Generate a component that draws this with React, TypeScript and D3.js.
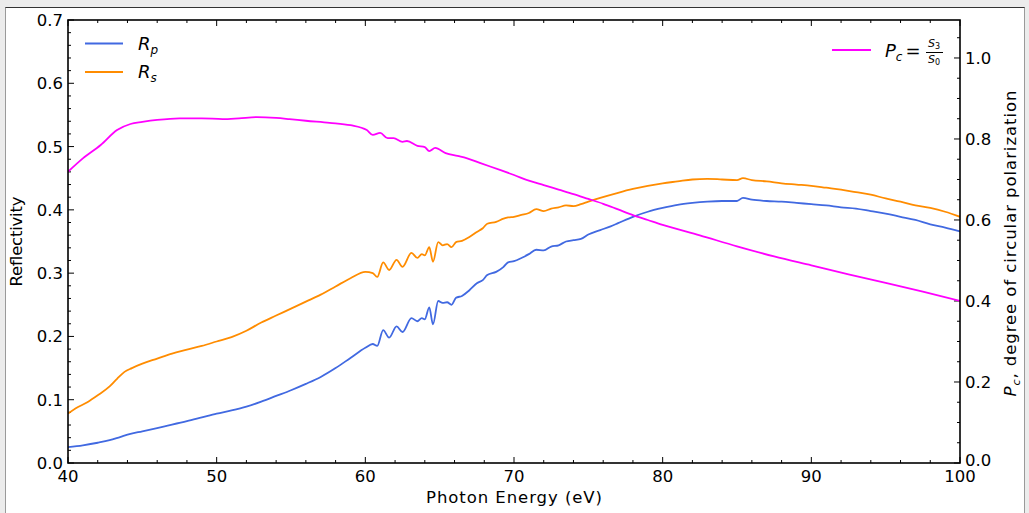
import React from "react";
import * as d3 from "d3";

const energyP = [40,41,42,42.8,43.5,44.2,45,46.5,48,49,50,51,52,53,54,55,56,57,58,59,60,60.5,60.8,61.2,61.6,62.1,62.5,63.1,63.5,63.8,64.0,64.3,64.55,64.9,65.2,65.5,65.8,66.1,66.5,67,67.5,67.9,68.2,68.8,69.3,69.6,70,70.5,71,71.5,72,72.5,73,73.5,74,74.5,75,75.8,76.5,77,78,79,80,81,82,83,84,85,85.4,86,87,88,89,90,91,92,93,94,95,96,97,98,99,100];
const rp = [0.025,0.028,0.032,0.036,0.041,0.046,0.050,0.058,0.066,0.072,0.078,0.083,0.089,0.097,0.106,0.115,0.125,0.136,0.150,0.166,0.182,0.188,0.185,0.210,0.198,0.216,0.207,0.229,0.224,0.229,0.227,0.246,0.219,0.256,0.253,0.254,0.250,0.261,0.264,0.273,0.284,0.289,0.297,0.302,0.310,0.317,0.319,0.324,0.330,0.337,0.336,0.342,0.344,0.350,0.352,0.354,0.361,0.368,0.374,0.379,0.389,0.397,0.403,0.408,0.411,0.413,0.414,0.414,0.419,0.416,0.414,0.413,0.411,0.409,0.407,0.404,0.402,0.398,0.394,0.389,0.384,0.377,0.372,0.366];

const energyS = [40,40.5,41.3,42,42.8,43.3,43.8,44.3,45,46,47,48,49,50,51,52,53,54,55,56,57,58,59,60,60.5,60.8,61.2,61.6,62.1,62.5,63.1,63.5,63.8,64.0,64.3,64.55,64.9,65.2,65.5,65.8,66.1,66.5,67,67.5,67.9,68.2,68.8,69.3,69.6,70,70.5,71,71.5,72,72.5,73,73.5,74,74.5,75,75.8,77,78,79,80,81,82,83,84,85,85.4,86,87,88,89,90,91,92,93,94,95,96,97,98,99,100];
const rs = [0.078,0.086,0.096,0.107,0.121,0.133,0.144,0.150,0.157,0.165,0.173,0.179,0.185,0.192,0.199,0.209,0.222,0.233,0.244,0.255,0.266,0.279,0.292,0.302,0.300,0.294,0.317,0.305,0.321,0.310,0.332,0.324,0.330,0.328,0.341,0.318,0.349,0.344,0.346,0.341,0.349,0.351,0.357,0.365,0.371,0.378,0.381,0.386,0.388,0.389,0.392,0.395,0.401,0.398,0.402,0.404,0.407,0.406,0.409,0.413,0.419,0.427,0.433,0.438,0.442,0.445,0.448,0.449,0.448,0.447,0.450,0.447,0.445,0.442,0.440,0.438,0.435,0.432,0.428,0.424,0.418,0.413,0.407,0.403,0.397,0.389];

const energyC = [40,41,42.2,43.3,44.2,45,46,47.5,49,50.4,51.5,52.7,54,54.9,56,57.6,59,60.1,60.5,61,61.5,61.9,62.5,62.8,63.5,64,64.3,64.7,65.4,66.2,66.8,67.7,69.1,70,71,72,73,74,75,76,77,78,79,80,82.5,85,87.5,90,92.5,95,97.5,100];
const pc = [0.719,0.752,0.785,0.822,0.837,0.842,0.847,0.851,0.851,0.849,0.851,0.854,0.852,0.849,0.845,0.840,0.834,0.822,0.810,0.815,0.802,0.802,0.793,0.795,0.783,0.780,0.770,0.778,0.765,0.758,0.753,0.741,0.723,0.711,0.697,0.686,0.675,0.664,0.652,0.640,0.626,0.612,0.600,0.588,0.562,0.535,0.510,0.488,0.466,0.445,0.423,0.400];

const xMajor = [40,50,60,70,80,90,100];
const yLeftMajor = [0,0.1,0.2,0.3,0.4,0.5,0.6,0.7];
const yRightMajor = [0,0.2,0.4,0.6,0.8,1.0];

const W = 1029, H = 513;
const L = 68, R = 960, T = 20, B = 463;
const FONT = "DejaVu Sans, sans-serif";

export default function App() {
  const x = d3.scaleLinear().domain([40, 100]).range([L, R]);
  const yl = d3.scaleLinear().domain([0, 0.7]).range([B, T]);
  const yr = d3.scaleLinear().domain([0, 0.7 / 0.64]).range([B, T]);

  const lineL = d3.line<[number, number]>().x(d => x(d[0])).y(d => yl(d[1])).curve(d3.curveMonotoneX);
  const lineR = d3.line<[number, number]>().x(d => x(d[0])).y(d => yr(d[1])).curve(d3.curveMonotoneX);

  const dP = lineL(energyP.map((e, i) => [e, rp[i]] as [number, number])) || "";
  const dS = lineL(energyS.map((e, i) => [e, rs[i]] as [number, number])) || "";
  const dC = lineR(energyC.map((e, i) => [e, pc[i]] as [number, number])) || "";

  const xMinor = d3.range(40, 100.01, 2);
  const ylMinor = d3.range(0, 0.7001, 0.02);
  const yrMinor = d3.range(0, 1.09, 0.05);

  const tickStroke = "#000";
  return (
    <div style={{ position: "fixed", left: 0, top: 0 }}>
      <svg width={W} height={H} style={{ display: "block" }}>
        <rect x={0} y={0} width={W} height={H} fill="#ececec" />
        <rect x={5.5} y={7.5} width={1019} height={510} fill="#fff" stroke="#9a9a9a" />
        <line x1={5.5} x2={1024.5} y1={7.5} y2={7.5} stroke="#333" />
        <defs>
          <clipPath id="plotclip"><rect x={L} y={T} width={R - L} height={B - T} /></clipPath>
        </defs>
        {xMinor.map((v, i) => {
          const major = xMajor.some(m => Math.abs(m - v) < 1e-6);
          const len = major ? 6 : 3;
          return (
            <g key={"xm" + i} stroke={tickStroke} strokeWidth={1}>
              <line x1={x(v)} x2={x(v)} y1={B} y2={B - len} />
              <line x1={x(v)} x2={x(v)} y1={T} y2={T + len} />
            </g>
          );
        })}
        {ylMinor.map((v, i) => {
          const major = yLeftMajor.some(m => Math.abs(m - v) < 1e-6);
          const len = major ? 6 : 3;
          return <line key={"yl" + i} x1={L} x2={L + len} y1={yl(v)} y2={yl(v)} stroke={tickStroke} />;
        })}
        {yrMinor.map((v, i) => {
          const major = yRightMajor.some(m => Math.abs(m - v) < 1e-6);
          const len = major ? 6 : 3;
          return <line key={"yr" + i} x1={R} x2={R - len} y1={yr(v)} y2={yr(v)} stroke={tickStroke} />;
        })}
        <g clipPath="url(#plotclip)" fill="none" strokeWidth={1.8} strokeLinejoin="round">
          <path d={dP} stroke="#4169e1" />
          <path d={dS} stroke="#ff8c00" />
          <path d={dC} stroke="#ff00ff" />
        </g>
        <rect x={L} y={T} width={R - L} height={B - T} fill="none" stroke="#000" strokeWidth={1.6} />
        <g fontFamily={FONT} fontSize={16.5} fill="#000">
          {xMajor.map((v, i) => (
            <text key={"xt" + i} x={x(v)} y={482} textAnchor="middle">{v}</text>
          ))}
          {yLeftMajor.map((v, i) => (
            <text key={"ylt" + i} x={63} y={yl(v) + 6} textAnchor="end">{v.toFixed(1)}</text>
          ))}
          {yRightMajor.map((v, i) => (
            <text key={"yrt" + i} x={965} y={yr(v) + (v === 0 ? 3 : 6)} textAnchor="start">{v.toFixed(1)}</text>
          ))}
        </g>
        <g fontFamily={FONT} fontSize={16.5} fill="#000">
          <text x={(L + R) / 2} y={503} textAnchor="middle" textLength={176} lengthAdjust="spacing">Photon Energy (eV)</text>
          <text transform={`translate(22,${(T + B) / 2}) rotate(-90)`} textAnchor="middle" textLength={90} lengthAdjust="spacing">Reflectivity</text>
          <text transform={`translate(1016,${(T + B) / 2 + 2}) rotate(-90)`} textAnchor="middle" textLength={306} lengthAdjust="spacing">
            <tspan fontStyle="italic">P</tspan>
            <tspan fontStyle="italic" fontSize={11} dy={4}>c</tspan>
            <tspan dy={-4}>, degree of circular polarization</tspan>
          </text>
        </g>
        <g fontFamily={FONT} fill="#000">
          <line x1={85} x2={123} y1={43.5} y2={43.5} stroke="#4169e1" strokeWidth={2} />
          <line x1={85} x2={123} y1={72} y2={72} stroke="#ff8c00" strokeWidth={2} />
          <text x={138} y={50} fontSize={18} fontStyle="italic">
            R<tspan fontSize={12} dy={4}>p</tspan>
          </text>
          <text x={138} y={78} fontSize={18} fontStyle="italic">
            R<tspan fontSize={12} dy={4}>s</tspan>
          </text>
        </g>
        <g fontFamily={FONT} fill="#000">
          <line x1={832} x2={871} y1={50} y2={50} stroke="#ff00ff" strokeWidth={2} />
          <text x={885} y={57} fontSize={18}>
            <tspan fontStyle="italic">P</tspan>
            <tspan fontStyle="italic" fontSize={12} dy={4}>c</tspan>
            <tspan dy={-4} dx={3}>=</tspan>
          </text>
          <text x={934} y={47} fontSize={11} textAnchor="middle">
            <tspan fontStyle="italic">S</tspan><tspan fontSize={8} dy={2}>3</tspan>
          </text>
          <line x1={926} x2={943} y1={52.5} y2={52.5} stroke="#000" strokeWidth={1} />
          <text x={934} y={63} fontSize={11} textAnchor="middle">
            <tspan fontStyle="italic">S</tspan><tspan fontSize={8} dy={2}>0</tspan>
          </text>
        </g>
      </svg>
    </div>
  );
}
